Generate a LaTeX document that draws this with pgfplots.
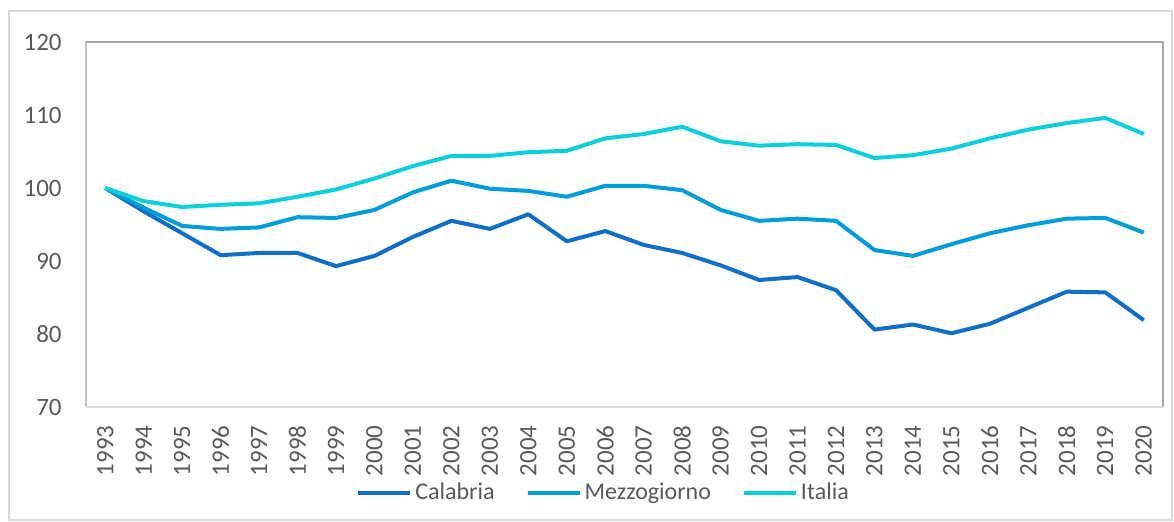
\documentclass[border=0pt]{standalone}
\usepackage{fontspec}
\setmainfont{Carlito}
\usepackage{pgfplots}
\pgfplotsset{compat=1.18}
\definecolor{cal}{HTML}{0F6FC6}
\definecolor{mez}{HTML}{009DD9}
\definecolor{ita}{HTML}{0BD0D9}
\definecolor{txt}{HTML}{595959}
\definecolor{bord}{HTML}{D9D9D9}
\definecolor{frameA}{HTML}{A6A6A6}
\definecolor{frameB}{HTML}{BFBFBF}
\begin{document}
\begin{tikzpicture}
\path[use as bounding box] (-43bp,-57.5bp) rectangle (544bp,203.5bp);
\draw[color=bord, line width=0.8bp] (-38.5bp,-56.5bp) rectangle (543bp,198bp);
\begin{axis}[
  at={(0,0)}, anchor=south west,
  scale only axis, width=538.5bp, height=182.5bp,
  xmin=1992.5, xmax=2020.5, ymin=70, ymax=120,
  xtick={1993,...,2020}, ytick={70,80,...,120},
  major tick length=0,
  axis lines*=left, axis line style={draw=none},
  tick label style={font=\fontsize{12.5bp}{14bp}\selectfont, text=txt},
  /pgf/number format/assume math mode=true,
  /pgf/number format/1000 sep={},
  xticklabel style={rotate=90, anchor=east, inner xsep=9bp},
  yticklabel style={anchor=east, inner xsep=12bp},
  legend columns=3,
  legend style={at={(0.481,-0.2356)}, anchor=center, draw=none, fill=none,
    font=\fontsize{12bp}{14bp}\selectfont, text=txt,
    nodes={inner sep=1.5bp},
    /tikz/every even column/.append style={column sep=14bp}},
  legend image code/.code={\draw[#1] (0bp,0bp) -- (26bp,0bp);},
  every axis plot/.append style={line width=2bp, line join=round},
]
\addplot[color=cal] coordinates {
(1993,100) (1994,96.8) (1995,93.8) (1996,90.8) (1997,91.1) (1998,91.1) (1999,89.3)
(2000,90.7) (2001,93.3) (2002,95.5) (2003,94.4) (2004,96.4) (2005,92.7) (2006,94.1)
(2007,92.2) (2008,91.1) (2009,89.4) (2010,87.4) (2011,87.8) (2012,86.0) (2013,80.6)
(2014,81.3) (2015,80.1) (2016,81.4) (2017,83.6) (2018,85.8) (2019,85.7) (2020,81.9)};
\addlegendentry{Calabria}
\addplot[color=mez] coordinates {
(1993,100) (1994,97.3) (1995,94.8) (1996,94.4) (1997,94.6) (1998,96.0) (1999,95.9)
(2000,97.0) (2001,99.4) (2002,101.0) (2003,99.9) (2004,99.6) (2005,98.8) (2006,100.3)
(2007,100.3) (2008,99.7) (2009,97.0) (2010,95.5) (2011,95.8) (2012,95.5) (2013,91.5)
(2014,90.7) (2015,92.3) (2016,93.8) (2017,94.9) (2018,95.8) (2019,95.9) (2020,93.9)};
\addlegendentry{Mezzogiorno}
\addplot[color=ita] coordinates {
(1993,100) (1994,98.2) (1995,97.4) (1996,97.7) (1997,97.9) (1998,98.8) (1999,99.8)
(2000,101.3) (2001,103.0) (2002,104.4) (2003,104.4) (2004,104.9) (2005,105.1) (2006,106.8)
(2007,107.4) (2008,108.4) (2009,106.4) (2010,105.8) (2011,106.0) (2012,105.9) (2013,104.1)
(2014,104.5) (2015,105.4) (2016,106.8) (2017,108.0) (2018,108.9) (2019,109.6) (2020,107.4)};
\addlegendentry{Italia}
\end{axis}
\draw[color=frameB, line width=0.8bp] (0,0) -- (0,182.5bp);
\draw[color=frameA, line width=0.8bp] (0,182.5bp) -- (538.5bp,182.5bp) -- (538.5bp,0);
\draw[color=bord, line width=0.8bp] (0,0) -- (538.5bp,0);
\end{tikzpicture}
\end{document}
